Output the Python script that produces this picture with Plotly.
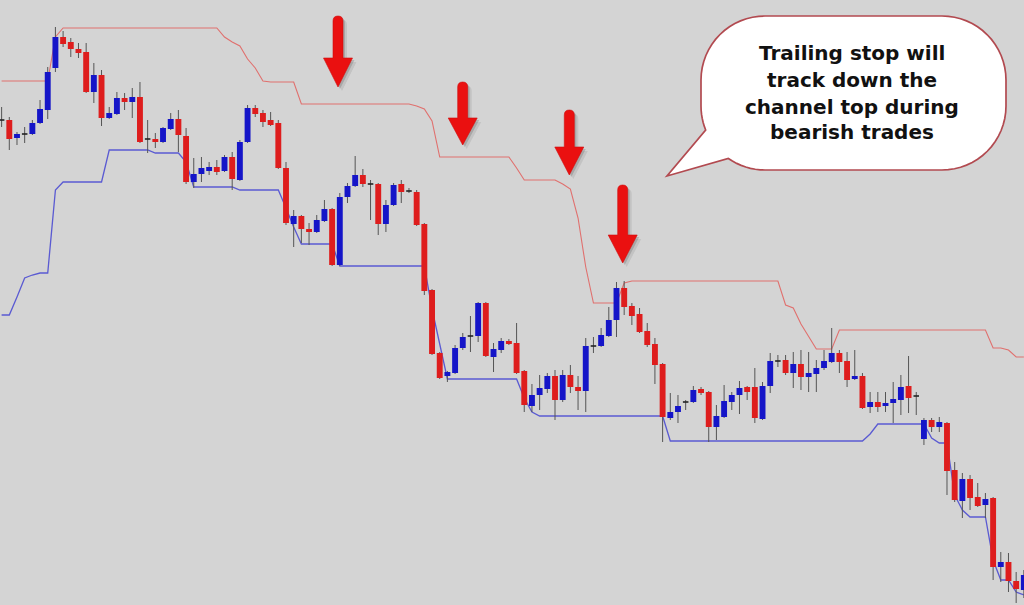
import math
import plotly.graph_objects as go

W, H = 1024, 605

# ---------------- data (price units) ----------------
bars = list(range(-1, 133))

high = [498, 488, 473, 478, 485, 505, 538, 578, 574, 567, 562, 562, 542, 535, 498, 513, 512, 517, 523, 485,
        472, 478, 492, 495, 477, 447, 448, 443, 445, 450, 453, 465, 500, 500, 495, 493, 485, 443, 395, 390,
        382, 390, 405, 397, 412, 422, 449, 436, 425, 422, 405, 422, 425, 417, 415, 382, 316, 253, 234, 260,
        272, 289, 303, 303, 262, 267, 266, 282, 235, 221, 230, 232, 235, 235, 240, 229, 267, 268, 277, 298,
        323, 324, 302, 297, 282, 267, 242, 212, 210, 205, 219, 218, 214, 200, 220, 213, 224, 219, 237, 223,
        252, 250, 250, 253, 255, 253, 245, 255, 277, 255, 253, 255, 232, 213, 213, 213, 223, 230, 249, 213,
        187, 187, 188, 183, 143, 132, 130, 122, 112, 108, 53, 52, 33, 35]

low = [478, 455, 460, 462, 470, 481, 486, 533, 558, 548, 547, 512, 502, 479, 486, 490, 495, 487, 462, 452,
       457, 462, 475, 453, 421, 417, 423, 430, 430, 433, 415, 424, 462, 488, 478, 479, 436, 380, 358, 362,
       360, 372, 383, 339, 339, 402, 418, 418, 385, 370, 373, 399, 402, 412, 379, 310, 250, 226, 223, 231,
       255, 253, 263, 248, 233, 252, 260, 231, 193, 193, 195, 212, 185, 203, 212, 195, 193, 252, 258, 268,
       268, 290, 280, 272, 258, 221, 163, 185, 182, 195, 202, 210, 163, 165, 187, 195, 191, 205, 182, 185,
       212, 238, 230, 217, 215, 213, 213, 235, 242, 232, 218, 225, 196, 192, 193, 193, 182, 190, 192, 190,
       160, 173, 173, 110, 103, 87, 95, 98, 87, 25, 23, 13, 2, 7]

open_ = [485, 485, 467, 471, 471, 482, 495, 537, 568, 563, 556, 553, 513, 530, 487, 491, 507, 503, 508, 466,
         466, 463, 476, 486, 469, 423, 431, 434, 438, 434, 448, 425, 463, 497, 492, 485, 482, 437, 381, 389,
         376, 373, 384, 396, 340, 408, 419, 430, 421, 421, 381, 400, 421, 414, 413, 381, 315, 252, 229, 232,
         257, 269, 269, 302, 248, 255, 264, 262, 234, 199, 210, 216, 229, 205, 230, 218, 214, 259, 259, 269,
         285, 317, 299, 291, 274, 261, 241, 187, 193, 203, 203, 216, 213, 178, 188, 203, 210, 218, 218, 186,
         219, 244, 245, 232, 241, 228, 231, 237, 243, 252, 244, 226, 229, 198, 203, 199, 202, 205, 219, 209,
         166, 185, 178, 182, 135, 104, 126, 108, 100, 107, 38, 43, 24, 15]

close = [485, 466, 471, 471, 482, 496, 533, 568, 561, 556, 552, 513, 530, 487, 492, 507, 503, 508, 463, 466,
         463, 477, 486, 470, 423, 431, 437, 438, 433, 448, 426, 463, 497, 491, 483, 480, 437, 382, 389, 376,
         373, 385, 396, 340, 408, 419, 430, 421, 421, 381, 400, 420, 413, 414, 380, 314, 251, 227, 233, 257,
         268, 269, 302, 249, 256, 264, 261, 232, 200, 210, 217, 229, 205, 230, 218, 214, 259, 259, 270, 285,
         317, 298, 289, 273, 260, 240, 188, 193, 199, 203, 215, 212, 178, 189, 204, 210, 217, 213, 187, 219,
         244, 244, 232, 241, 228, 232, 237, 244, 252, 243, 225, 229, 197, 203, 198, 202, 206, 218, 207, 209,
         185, 178, 183, 134, 105, 126, 107, 99, 106, 38, 43, 24, 16, 30]

channel_top = [524, 524, 524, 524, 524, 524, 524, 568, 577, 577, 577, 577, 577, 577, 577, 577, 577, 577, 577, 577,
               577, 577, 577, 577, 577, 577, 577, 577, 577, 568, 563, 559, 546, 537, 524, 523, 523, 523, 523, 501,
               501, 501, 501, 501, 501, 501, 501, 501, 501, 501, 501, 501, 501, 501, 499, 496, 484, 448, 448, 448,
               448, 448, 448, 448, 448, 448, 448, 437, 425, 425, 425, 425, 425, 421, 416, 387, 338, 302, 302, 302,
               302, 322, 324, 324, 324, 324, 324, 324, 324, 324, 324, 324, 324, 324, 324, 324, 324, 324, 324, 324,
               324, 324, 300, 297, 281, 269, 256, 256, 256, 275, 275, 275, 275, 275, 275, 275, 275, 275, 275, 275,
               275, 275, 275, 275, 275, 275, 275, 275, 275, 257, 257, 255, 248, 248]

channel_bottom = [290, 290, 308, 327, 330, 332, 332, 415, 423, 423, 423, 423, 423, 423, 455, 455, 455, 455, 455, 455,
                  452, 452, 452, 452, 443, 418, 418, 418, 418, 418, 418, 415, 415, 415, 415, 415, 415, 397, 378, 361,
                  361, 361, 361, 361, 339, 339, 339, 339, 339, 339, 339, 339, 339, 339, 339, 339, 296, 260, 226, 226,
                  226, 226, 226, 226, 226, 226, 226, 226, 207, 193, 189, 189, 189, 189, 189, 189, 189, 189, 189, 189,
                  189, 189, 189, 189, 189, 189, 189, 164, 164, 164, 164, 164, 164, 164, 164, 164, 164, 164, 164, 164,
                  164, 164, 164, 164, 164, 164, 164, 164, 164, 164, 164, 164, 164, 171, 181, 181, 181, 181, 181, 181,
                  181, 167, 162, 162, 110, 95, 88, 88, 88, 45, 25, 25, 13, 10]

callout_lines = ["Trailing stop will", "track down the", "channel top during", "bearish trades"]

n = len(bars)
for arr in (high, low, open_, close, channel_top, channel_bottom):
    assert len(arr) == n, len(arr)

# ---------------- styling / layout constants ----------------
BG = "#d4d4d4"
UP = "#1515c8"
DOWN = "#de1d1d"
WICK = "#555555"
X0_PX, STEP_PX = 9.3, 7.686          # candle spacing on screen
BODY_PX = 5.9
XR = [(0 - X0_PX) / STEP_PX, (W - X0_PX) / STEP_PX]

# ---------------- traces ----------------
fig = go.Figure()

fig.add_trace(go.Scatter(x=bars, y=channel_top, mode="lines",
                         line=dict(color="#e0706e", width=1.1), hoverinfo="skip"))
fig.add_trace(go.Scatter(x=bars, y=channel_bottom, mode="lines",
                         line=dict(color="#5a5ad2", width=1.3), hoverinfo="skip"))

wx, wy = [], []
ux, uy, dx_, dy_ = [], [], [], []
jx, jy = [], []
for i, h, l, o, c in zip(bars, high, low, open_, close):
    top, bot = max(o, c), min(o, c)
    if h > top:
        wx += [i, i, None]; wy += [h, top, None]
    if bot > l:
        wx += [i, i, None]; wy += [bot, l, None]
    if o == c:
        jx += [i - 0.36, i + 0.36, None]; jy += [o, o, None]
    elif c > o:
        ux += [i, i, None]; uy += [o, c, None]
    else:
        dx_ += [i, i, None]; dy_ += [o, c, None]

fig.add_trace(go.Scatter(x=wx, y=wy, mode="lines", line=dict(color=WICK, width=1), hoverinfo="skip"))
fig.add_trace(go.Scatter(x=ux, y=uy, mode="lines", line=dict(color=UP, width=BODY_PX), hoverinfo="skip"))
fig.add_trace(go.Scatter(x=dx_, y=dy_, mode="lines", line=dict(color=DOWN, width=BODY_PX), hoverinfo="skip"))
fig.add_trace(go.Scatter(x=jx, y=jy, mode="lines", line=dict(color="#222222", width=1.6), hoverinfo="skip"))

# ---------------- decorations (screen-pixel geometry -> paper coords) ----------------
def P(x, y):
    return f"{x / W:.5f},{1 - y / H:.5f}"


def arrow_path(cx, top, hy, tip, dx=0.0, dy=0.0, s=5.0, hw=14.5):
    cx += dx; top += dy; hy += dy; tip += dy
    return (f"M{P(cx - s, top + s)} Q{P(cx - s, top)} {P(cx, top)} Q{P(cx + s, top)} {P(cx + s, top + s)} "
            f"L{P(cx + s, hy)} L{P(cx + hw, hy)} L{P(cx, tip)} L{P(cx - hw, hy)} L{P(cx - s, hy)} Z")


shapes = []
arrows = [(338, 16, 58, 87), (462.7, 82, 118, 145), (569.3, 110, 147, 175), (622.7, 185, 235, 263)]
for a in arrows:
    shapes.append(dict(type="path", xref="paper", yref="paper", path=arrow_path(*a, dx=4, dy=4),
                       fillcolor="rgba(70,70,70,0.12)", line=dict(width=0)))
    shapes.append(dict(type="path", xref="paper", yref="paper", path=arrow_path(*a, dx=2, dy=2),
                       fillcolor="rgba(70,70,70,0.22)", line=dict(width=0)))
    shapes.append(dict(type="path", xref="paper", yref="paper", path=arrow_path(*a),
                       fillcolor="#ea1010", line=dict(color="#d00c0c", width=0.6)))

# speech bubble
BL, BR, BT, BB, RAD = 701, 1006, 16, 170, 64
tail_tip = (667, 176)
pts = []
corners = [((BR - RAD, BT + RAD), -90, 0), ((BR - RAD, BB - RAD), 0, 90),
           ((BL + RAD, BB - RAD), 90, 180), ((BL + RAD, BT + RAD), 180, 270)]
for (ccx, ccy), a0, a1 in corners:
    if a0 == 90:
        angs = [90 + (125 - 90) * k / 8 for k in range(9)]
        for a in angs:
            pts.append((ccx + RAD * math.cos(math.radians(a)), ccy + RAD * math.sin(math.radians(a))))
        pts.append(tail_tip)
        angs = [158 + (180 - 158) * k / 6 for k in range(7)]
    else:
        angs = [a0 + (a1 - a0) * k / 16 for k in range(17)]
    for a in angs:
        pts.append((ccx + RAD * math.cos(math.radians(a)), ccy + RAD * math.sin(math.radians(a))))
bubble = "M" + " L".join(P(x, y) for x, y in pts) + " Z"
shapes.append(dict(type="path", xref="paper", yref="paper", path=bubble,
                   fillcolor="#ffffff", line=dict(color="#b24a50", width=1.7)))

annotations = []
for txt, yc in zip(callout_lines, [53, 80, 107, 132]):
    annotations.append(dict(xref="paper", yref="paper", x=852 / W, y=1 - yc / H, text=f"<b>{txt}</b>",
                            showarrow=False, xanchor="center", yanchor="middle",
                            font=dict(family="DejaVu Sans", size=20, color="#111111")))

fig.update_layout(
    width=W, height=H, margin=dict(l=0, r=0, t=0, b=0),
    paper_bgcolor=BG, plot_bgcolor=BG, showlegend=False,
    xaxis=dict(range=XR, visible=False, fixedrange=True),
    yaxis=dict(range=[0, H], visible=False, fixedrange=True),
    shapes=shapes, annotations=annotations,
)

fig.write_html("out.html", config={"displayModeBar": False},
               post_script="document.body.style.margin='0';document.body.style.padding='0';")
